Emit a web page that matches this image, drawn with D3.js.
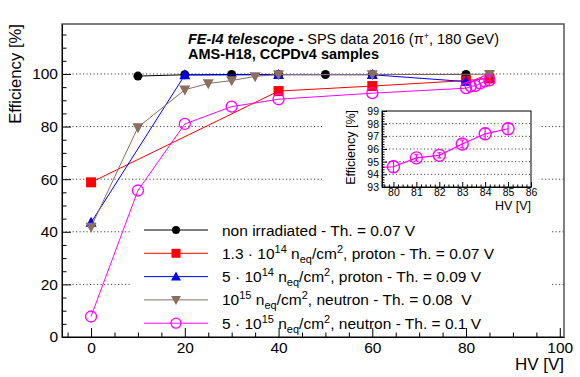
<!DOCTYPE html>
<html><head><meta charset="utf-8">
<script src="https://cdn.jsdelivr.net/npm/d3@7"></script>
<style>body{margin:0;background:#fff}svg{display:block}text{font-family:"Liberation Sans",Arial,sans-serif}</style>
</head><body><svg id="c" width="580" height="377"></svg>
<script>
// ---- data ----
const hvNonIrr = [10, 20, 30, 40, 50, 60, 80];
const effNonIrr = [99.2, 99.7, 99.8, 99.8, 99.8, 99.8, 99.8];
const hvP13 = [0, 40, 60, 80, 85];
const effP13 = [58.8, 93.5, 95.4, 97.5, 98.3];
const hvP5 = [0, 20, 40, 60, 80];
const effP5 = [43.5, 99.6, 99.7, 99.7, 97.1];
const hvN1e15 = [0, 10, 20, 25, 30, 35, 40, 60, 85];
const effN1e15 = [41.8, 79.7, 94.0, 96.4, 97.5, 99.1, 99.8, 99.8, 99.9];
const hvN5e15 = [0, 10, 20, 30, 40, 60, 80, 81, 82, 83, 84, 85];
const effN5e15 = [7.8, 55.7, 81.0, 87.6, 90.4, 92.7, 94.6, 95.3, 95.5, 96.4, 97.2, 97.6];
const errN5e15 = [0.5, 0.5, 0.5, 0.4, 0.4, 0.4, 0.45, 0.25, 0.2, 0.3, 0.45, 0.45];
const xTicks = [0, 20, 40, 60, 80, 100];
const yTicks = [0, 20, 40, 60, 80, 100];
const insetXTicks = [80, 81, 82, 83, 84, 85, 86];
const insetYTicks = [93, 94, 95, 96, 97, 98, 99];

const series = [
  {hv: hvNonIrr, eff: effNonIrr, color: "#000000", marker: "circle",
   label: [["non irradiated - Th. = 0.07 V"]]},
  {hv: hvP13, eff: effP13, color: "#ff0000", marker: "square",
   label: [["1.3 · 10"], ["14", "sup"], [" n"], ["eq", "sub"], ["/cm"], ["2", "sup"], [", proton - Th. = 0.07 V"]]},
  {hv: hvP5, eff: effP5, color: "#0000ff", marker: "triangleUp",
   label: [["5 · 10"], ["14", "sup"], [" n"], ["eq", "sub"], ["/cm"], ["2", "sup"], [", proton - Th. = 0.09 V"]]},
  {hv: hvN1e15, eff: effN1e15, color: "#8a6e60", marker: "triangleDown",
   label: [["10"], ["15", "sup"], [" n"], ["eq", "sub"], ["/cm"], ["2", "sup"], [", neutron - Th. = 0.08\u00a0 V"]]},
  {hv: hvN5e15, eff: effN5e15, err: errN5e15, color: "#ff00ff", marker: "openCircle",
   label: [["5 · 10"], ["15", "sup"], [" n"], ["eq", "sub"], ["/cm"], ["2", "sup"], [", neutron - Th. = 0.1 V"]]}
];

const svg = d3.select("#c");
const L = 62, R = 564, T = 24, B = 337;
const x = d3.scaleLinear([-6.2, 100.9], [L, R]);
const y = d3.scaleLinear([0, 119], [B, T]);

// gridlines
svg.append("g").selectAll("line").data(yTicks.filter(d => d > 0)).join("line")
  .attr("x1", L).attr("x2", R).attr("y1", d => y(d)).attr("y2", d => y(d))
  .attr("stroke", "#444").attr("stroke-width", 1).attr("stroke-dasharray", "1.2,2.3");

// inset pad & legend pad (white)
svg.append("rect").attr("x", 322).attr("y", 99).attr("width", 217).attr("height", 122).attr("fill", "#fff");
svg.append("rect").attr("x", 130).attr("y", 214).attr("width", 420).attr("height", 120).attr("fill", "#fff");

function markerPath(type, size) {
  const s = size;
  if (type === "square") return `M${-s/2},${-s/2}h${s}v${s}h${-s}Z`;
  if (type === "triangleUp") return `M0,${-s*0.58}L${s*0.55},${s*0.42}L${-s*0.55},${s*0.42}Z`;
  if (type === "triangleDown") return `M0,${s*0.58}L${s*0.55},${-s*0.42}L${-s*0.55},${-s*0.42}Z`;
  return null;
}
function drawMarker(g, type, color, cx, cy, size) {
  if (type === "circle") {
    g.append("circle").attr("cx", cx).attr("cy", cy).attr("r", size/2).attr("fill", color);
  } else if (type === "openCircle") {
    g.append("circle").attr("cx", cx).attr("cy", cy).attr("r", size/2).attr("fill", "none")
      .attr("stroke", color).attr("stroke-width", 1.3);
  } else {
    g.append("path").attr("d", markerPath(type, size)).attr("transform", `translate(${cx},${cy})`).attr("fill", color);
  }
}
const mSize = {circle: 9, square: 10, triangleUp: 10, triangleDown: 10, openCircle: 11};

// data
const dataG = svg.append("g");
series.forEach(s => {
  const pts = s.hv.map((h, i) => [h, s.eff[i]]);
  const line = d3.line().x(d => x(d[0])).y(d => y(d[1]));
  dataG.append("path").attr("d", line(pts)).attr("fill", "none").attr("stroke", s.color).attr("stroke-width", 1);
  pts.forEach(p => drawMarker(dataG, s.marker, s.color, x(p[0]), y(p[1]), mSize[s.marker]));
});

// frame
svg.append("rect").attr("x", L).attr("y", T).attr("width", R - L).attr("height", B - T)
  .attr("fill", "none").attr("stroke", "#555").attr("stroke-width", 1.5);

// axes
const minorX = d3.range(-5, 101, 5).filter(d => !xTicks.includes(d));
const minorY = d3.range(5, 119, 5).filter(d => !yTicks.includes(d));
svg.append("g").attr("transform", `translate(0,${B})`)
  .call(d3.axisBottom(x).tickValues(minorX).tickSize(-4.5).tickFormat(""))
  .call(g => g.select(".domain").remove());
const xa = svg.append("g").attr("transform", `translate(0,${B})`)
  .call(d3.axisBottom(x).tickValues(xTicks).tickSize(-9).tickPadding(5).tickSizeOuter(0));
xa.selectAll("text").attr("font-size", 15.5).attr("fill", "#000");
svg.append("g").attr("transform", `translate(${L},0)`)
  .call(d3.axisLeft(y).tickValues(minorY).tickSize(-4.5).tickFormat(""))
  .call(g => g.select(".domain").remove());
const ya = svg.append("g").attr("transform", `translate(${L},0)`)
  .call(d3.axisLeft(y).tickValues(yTicks).tickSize(-9).tickPadding(4).tickSizeOuter(0));
ya.selectAll("text").attr("font-size", 15.5).attr("fill", "#000");
svg.selectAll(".domain").attr("stroke", "#000");

// axis titles
svg.append("text").attr("x", R).attr("y", 370).attr("text-anchor", "end").attr("font-size", 17).text("HV [V]");
svg.append("text").attr("transform", `translate(21,${T}) rotate(-90)`).attr("text-anchor", "end")
  .attr("font-size", 16.7).text("Efficiency [%]");

// header
const h1 = svg.append("text").attr("x", 188).attr("y", 44).attr("font-size", 14.5);
h1.append("tspan").attr("font-weight", "bold").attr("font-style", "italic").text("FE-I4 telescope -");
h1.append("tspan").text(" SPS data 2016 (\u03c0");
h1.append("tspan").attr("dy", -5).attr("font-size", 9).text("+");
h1.append("tspan").attr("dy", 5).text(", 180 GeV)");
svg.append("text").attr("x", 188).attr("y", 58.5).attr("font-size", 14.5).attr("font-weight", "bold")
  .text("AMS-H18, CCPDv4 samples");

// legend
const legendY0 = 230, legendDY = 23.3;
series.forEach((s, i) => {
  const ly = legendY0 + i * legendDY;
  const g = svg.append("g");
  g.append("line").attr("x1", 144).attr("x2", 208).attr("y1", ly).attr("y2", ly).attr("stroke", s.color).attr("stroke-width", 1);
  drawMarker(g, s.marker, s.color, 176, ly, mSize[s.marker] - 1);
  const t = g.append("text").attr("x", 222).attr("y", ly + 5.5).attr("font-size", 15.5);
  let cur = 0;
  s.label.forEach(([str, kind]) => {
    const target = kind === "sup" ? -6 : kind === "sub" ? 4 : 0;
    const sp = t.append("tspan").attr("dy", target - cur).text(str);
    if (kind) sp.attr("font-size", 11);
    cur = target;
  });
});

// ---- inset ----
const iL = 382, iR = 531, iT = 111, iB = 187;
const xi = d3.scaleLinear([79.5, 86], [iL, iR]);
const yi = d3.scaleLinear([93, 99], [iB, iT]);
const ig = svg.append("g");
ig.append("clipPath").attr("id", "iclip").append("rect").attr("x", iL).attr("y", iT).attr("width", iR - iL).attr("height", iB - iT);
ig.append("g").selectAll("line").data(insetYTicks.filter(d => d > 93 && d < 99)).join("line")
  .attr("x1", iL).attr("x2", iR).attr("y1", d => yi(d)).attr("y2", d => yi(d))
  .attr("stroke", "#444").attr("stroke-dasharray", "1.2,2.3");
const pink = series[4];
const ipts = pink.hv.map((h, i) => [h, pink.eff[i], pink.err[i]]);
const ic = ig.append("g").attr("clip-path", "url(#iclip)");
ic.append("path").attr("d", d3.line().x(d => xi(d[0])).y(d => yi(d[1]))(ipts))
  .attr("fill", "none").attr("stroke", pink.color).attr("stroke-width", 1.2);
ipts.filter(d => d[0] >= 80).forEach(d => {
  const cx = xi(d[0]);
  ic.append("line").attr("x1", cx).attr("x2", cx).attr("y1", yi(d[1] - d[2])).attr("y2", yi(d[1] + d[2]))
    .attr("stroke", pink.color).attr("stroke-width", 1.2);
  [d[1] - d[2], d[1] + d[2]].forEach(v => ic.append("line").attr("x1", cx - 2).attr("x2", cx + 2)
    .attr("y1", yi(v)).attr("y2", yi(v)).attr("stroke", pink.color).attr("stroke-width", 1.2));
  ic.append("circle").attr("cx", cx).attr("cy", yi(d[1])).attr("r", 6).attr("fill", "none")
    .attr("stroke", pink.color).attr("stroke-width", 1.4);
});
ig.append("rect").attr("x", iL).attr("y", iT).attr("width", iR - iL).attr("height", iB - iT)
  .attr("fill", "none").attr("stroke", "#000").attr("stroke-width", 1);
const iminX = d3.range(79.6, 86, 0.2).filter(d => Math.abs(d - Math.round(d)) > 0.05);
const iminY = d3.range(93.2, 99, 0.2).filter(d => Math.abs(d - Math.round(d)) > 0.05);
ig.append("g").attr("transform", `translate(0,${iB})`)
  .call(d3.axisBottom(xi).tickValues(iminX).tickSize(-2.5).tickFormat("")).call(g => g.select(".domain").remove());
ig.append("g").attr("transform", `translate(${iL},0)`)
  .call(d3.axisLeft(yi).tickValues(iminY).tickSize(-2.5).tickFormat("")).call(g => g.select(".domain").remove());
const ixa = ig.append("g").attr("transform", `translate(0,${iB})`)
  .call(d3.axisBottom(xi).tickValues(insetXTicks).tickSize(-5).tickPadding(2).tickSizeOuter(0).tickFormat(d3.format("d")));
ixa.selectAll("text").attr("font-size", 10.5).attr("fill", "#000");
const iya = ig.append("g").attr("transform", `translate(${iL},0)`)
  .call(d3.axisLeft(yi).tickValues(insetYTicks).tickSize(-5).tickPadding(3).tickSizeOuter(0).tickFormat(d3.format("d")));
iya.selectAll("text").attr("font-size", 10.5).attr("fill", "#000");
ig.selectAll(".domain").attr("stroke", "#000");
ig.append("text").attr("x", iR).attr("y", 210).attr("text-anchor", "end").attr("font-size", 12.5).text("HV [V]");
ig.append("text").attr("transform", `translate(355,${iT - 1}) rotate(-90)`).attr("text-anchor", "end")
  .attr("font-size", 12.5).text("Efficiency [%]");
</script></body></html>
